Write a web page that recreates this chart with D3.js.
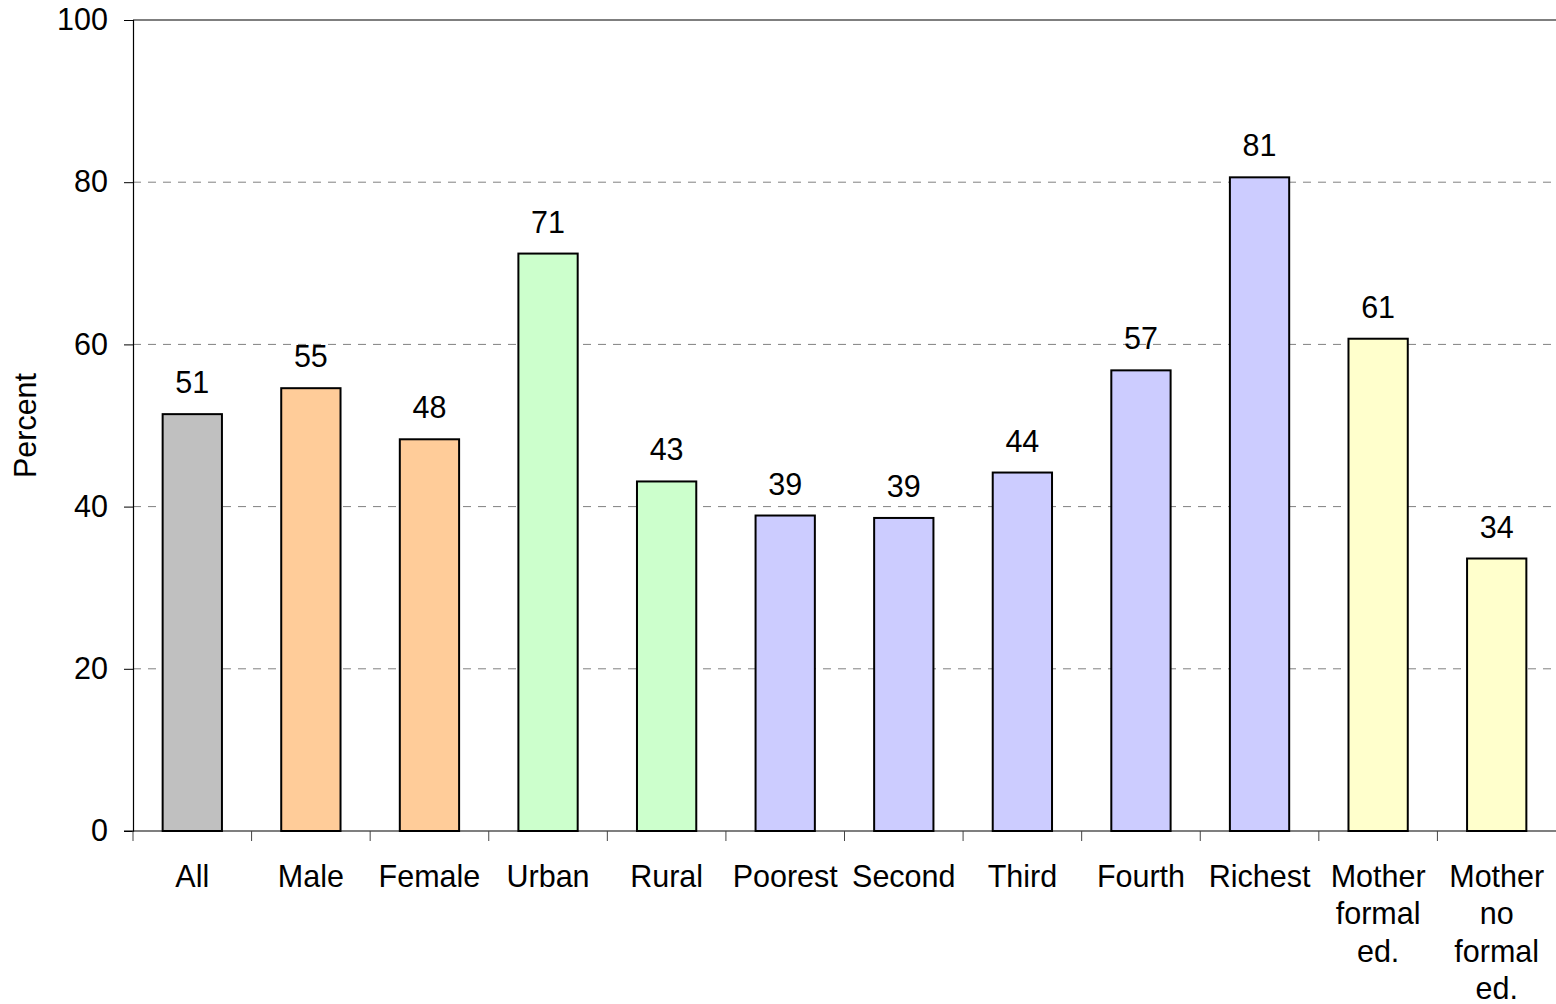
<!DOCTYPE html>
<html>
<head>
<meta charset="utf-8">
<script src="https://cdn.jsdelivr.net/npm/d3@7"></script>
<style>
  html, body { margin: 0; padding: 0; background: #fff; }
  svg { display: block; font-family: "Liberation Sans", Arial, sans-serif; }
</style>
</head>
<body>
<svg id="chart" width="1556" height="1004"></svg>
<script>
const categories = ["All", "Male", "Female", "Urban", "Rural", "Poorest", "Second", "Third", "Fourth", "Richest", "Mother formal ed.", "Mother no formal ed."];
const values = [51.4, 54.6, 48.3, 71.2, 43.1, 38.9, 38.6, 44.2, 56.8, 80.6, 60.7, 33.6];
const groups = ["total", "sex", "sex", "area", "area", "wealth", "wealth", "wealth", "wealth", "wealth", "education", "education"];
const groupNames = ["total", "sex", "area", "wealth", "education"];
const groupColors = ["#C0C0C0", "#FFCC99", "#CCFFCC", "#CCCCFF", "#FFFFCC"];
const yTicks = [0, 20, 40, 60, 80, 100];
const yTitle = "Percent";

const svg = d3.select("#chart");
const mLeft = 133, mRight = 1556, mTop = 20, mBottom = 831;
const FS = 30.5;

const x = d3.scaleBand().domain(categories).range([mLeft, mRight]).paddingInner(0.5).paddingOuter(0.25);
const xb = d3.scaleBand().domain(categories).range([mLeft, mRight]);
const y = d3.scaleLinear().domain([0, 100]).range([mBottom, mTop]);
const color = d3.scaleOrdinal().domain(groupNames).range(groupColors);

// gridlines
svg.append("g").selectAll("line").data(yTicks.filter(t => t > 0 && t < 100)).join("line")
  .attr("x1", mLeft).attr("x2", mRight)
  .attr("y1", d => y(d)).attr("y2", d => y(d))
  .attr("stroke", "#808080").attr("stroke-width", 1).attr("stroke-dasharray", "8,7");

// top border
svg.append("line").attr("x1", mLeft).attr("x2", mRight).attr("y1", y(100)).attr("y2", y(100))
  .attr("stroke", "#000").attr("stroke-width", 1.2);

// y axis
const yAxis = d3.axisLeft(y).tickValues(yTicks).tickSize(9).tickPadding(16);
const gy = svg.append("g").attr("transform", `translate(${mLeft},0)`).call(yAxis);
gy.select(".domain").attr("stroke", "#000").attr("stroke-width", 1.2);
gy.selectAll(".tick line").attr("stroke", "#000");
gy.selectAll(".tick text").attr("font-size", FS).attr("fill", "#000")
  .attr("font-family", "Liberation Sans, Arial, sans-serif");

// bars
svg.append("g").selectAll("rect").data(categories).join("rect")
  .attr("x", d => x(d))
  .attr("width", x.bandwidth())
  .attr("y", (d, i) => y(values[i]))
  .attr("height", (d, i) => y(0) - y(values[i]))
  .attr("fill", (d, i) => color(groups[i]))
  .attr("stroke", "#000").attr("stroke-width", 2);

// value labels
svg.append("g").selectAll("text").data(categories).join("text")
  .attr("x", d => x(d) + x.bandwidth() / 2)
  .attr("y", (d, i) => y(values[i]) - 21)
  .attr("text-anchor", "middle")
  .attr("font-size", FS).attr("fill", "#000")
  .text((d, i) => Math.round(values[i]));

// x axis line + ticks at band boundaries
svg.append("line").attr("x1", mLeft - 9).attr("x2", mRight).attr("y1", mBottom).attr("y2", mBottom)
  .attr("stroke", "#000").attr("stroke-width", 1.2);
const boundaries = categories.map(c => xb(c));
svg.append("g").selectAll("line").data(boundaries).join("line")
  .attr("x1", d => d).attr("x2", d => d)
  .attr("y1", mBottom).attr("y2", mBottom + 10)
  .attr("stroke", "#444").attr("stroke-width", 1);

// x labels
const xl = svg.append("g").selectAll("text").data(categories).join("text")
  .attr("x", d => xb(d) + xb.bandwidth() / 2)
  .attr("y", 887)
  .attr("text-anchor", "middle")
  .attr("font-size", FS).attr("fill", "#000");
xl.each(function(d) {
  const t = d3.select(this);
  d.split(" ").forEach((w, i) => {
    t.append("tspan").attr("x", xb(d) + xb.bandwidth() / 2).attr("dy", i === 0 ? 0 : 37.3).text(w);
  });
});

// y title
svg.append("text")
  .attr("transform", `translate(36,${(mTop + mBottom) / 2}) rotate(-90)`)
  .attr("text-anchor", "middle")
  .attr("font-size", FS).attr("fill", "#000")
  .text(yTitle);
</script>
</body>
</html>
